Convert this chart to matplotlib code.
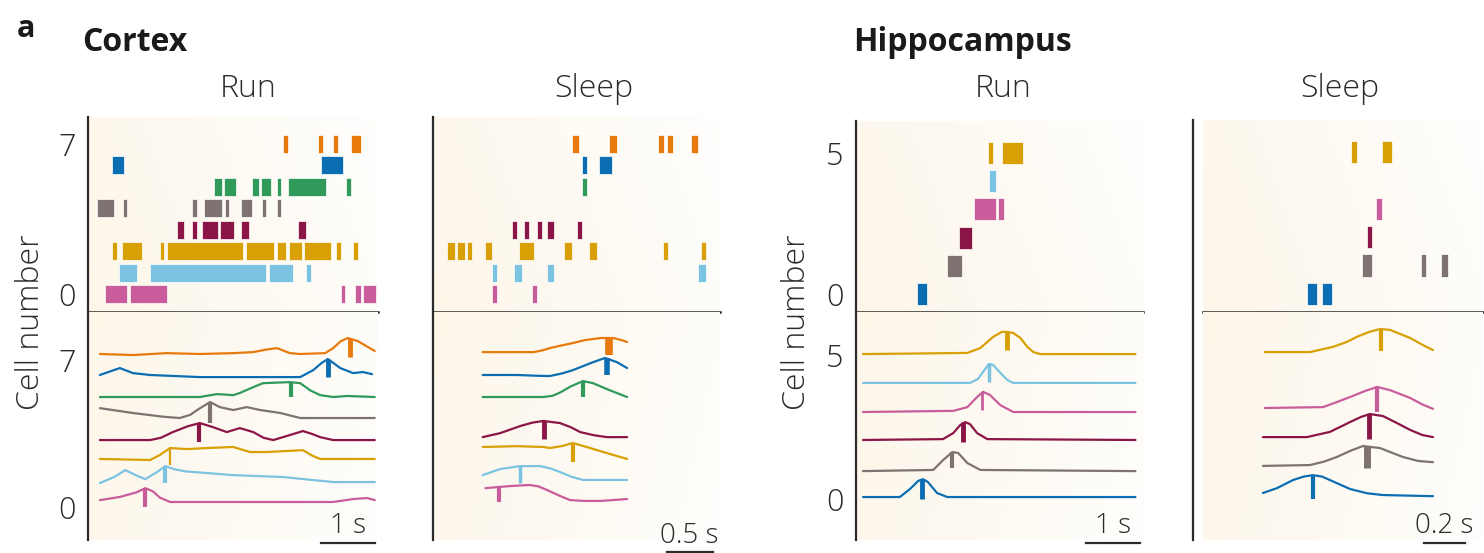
import numpy as np
import matplotlib
matplotlib.use("Agg")
import matplotlib.pyplot as plt

plt.rcParams['font.family'] = ['Open Sans', 'DejaVu Sans']

# colours of the cells
c_pink = '#C95C9A'
c_lblue = '#7CC3E1'
c_gold = '#D8A004'
c_maroon = '#8B1547'
c_gray = '#7E7370'
c_green = '#2F9A5A'
c_blue = '#0B6EB3'
c_orange = '#E8790D'

cortex_colors = [c_pink, c_lblue, c_gold, c_maroon, c_gray, c_green, c_blue, c_orange]
hippo_colors = [c_blue, c_gray, c_maroon, c_pink, c_lblue, c_gold]

# ---------------- cortex, run ----------------
# raster: (start, end) in s, one list per cell 0..7
cx_run_spikes = [
    [(0.31, 0.72), (0.78, 1.46), (4.69, 4.76), (4.94, 5.06), (5.09, 5.33)],
    [(0.57, 0.91), (1.15, 3.30), (3.35, 3.80), (4.04, 4.13)],
    [(0.44, 0.54), (0.63, 1.00), (1.33, 1.41), (1.46, 2.87), (2.93, 3.44),
     (3.50, 3.67), (3.72, 3.96), (4.00, 4.50), (4.59, 4.69), (4.91, 5.00)],
    [(1.65, 1.78), (1.93, 2.02), (2.11, 2.41), (2.44, 2.70), (2.83, 2.98), (3.89, 4.04)],
    [(0.17, 0.48), (0.65, 0.72), (1.93, 2.02), (2.15, 2.48), (2.54, 2.61),
     (2.83, 3.04), (3.22, 3.30), (3.50, 3.57)],
    [(2.33, 2.48), (2.52, 2.74), (3.04, 3.17), (3.20, 3.39), (3.50, 3.57),
     (3.70, 4.41), (4.78, 4.87)],
    [(0.44, 0.67), (4.31, 4.72)],
    [(3.61, 3.70), (4.26, 4.35), (4.54, 4.63), (4.87, 5.06)],
]
# traces: time (s) and level (cell number units)
cx_run_t = [
    [0.22, 0.59, 0.90, 1.06, 1.20, 1.33, 1.52, 4.54, 4.91, 5.17, 5.31],
    [0.22, 0.50, 0.69, 0.90, 1.06, 1.30, 1.43, 1.60, 1.80, 2.69, 3.61, 4.54, 5.31],
    [0.22, 1.15, 1.33, 1.52, 1.83, 2.20, 2.69, 3.00, 3.31, 3.98, 4.15, 4.30, 5.31],
    [0.22, 1.15, 1.35, 1.57, 1.85, 2.07, 2.31, 2.57, 2.81, 3.06, 3.25, 3.43, 3.74,
     3.98, 4.15, 4.30, 4.54, 5.31],
    [0.22, 0.83, 1.40, 1.70, 1.90, 2.02, 2.26, 2.44, 2.69, 2.94, 3.19, 3.56, 3.93, 5.31],
    [0.22, 2.07, 2.39, 2.69, 2.81, 3.05, 3.24, 3.74, 3.93, 4.12, 4.30, 4.54, 4.80, 5.31],
    [0.22, 0.59, 0.83, 1.15, 2.07, 3.93, 4.17, 4.32, 4.44, 4.55, 4.67, 4.91, 5.09, 5.26],
    [0.22, 0.83, 1.46, 2.07, 2.69, 3.06, 3.30, 3.50, 3.74, 3.93, 4.39, 4.54, 4.68,
     4.81, 5.00, 5.31],
]
cx_run_v = [
    [0.33, 0.48, 0.70, 0.90, 0.75, 0.45, 0.24, 0.24, 0.38, 0.43, 0.33],
    [1.14, 1.45, 1.76, 1.50, 1.33, 1.70, 1.95, 1.80, 1.70, 1.52, 1.43, 1.19, 1.19],
    [2.29, 2.24, 2.48, 2.81, 2.76, 2.81, 2.86, 2.62, 2.62, 2.71, 2.45, 2.29, 2.29],
    [3.19, 3.19, 3.30, 3.57, 3.85, 4.00, 3.81, 3.57, 3.76, 3.57, 3.30, 3.19, 3.43,
     3.62, 3.48, 3.33, 3.19, 3.19],
    [4.71, 4.48, 4.30, 4.24, 4.40, 4.62, 5.00, 4.76, 4.62, 4.76, 4.62, 4.48, 4.24, 4.24],
    [5.24, 5.24, 5.38, 5.33, 5.43, 5.70, 5.90, 5.95, 5.90, 5.55, 5.33, 5.24, 5.29, 5.24],
    [6.29, 6.62, 6.38, 6.29, 6.19, 6.19, 6.52, 6.85, 7.05, 6.85, 6.62, 6.38, 6.43, 6.33],
    [7.29, 7.24, 7.33, 7.29, 7.33, 7.38, 7.50, 7.57, 7.33, 7.29, 7.33, 7.57, 7.90,
     8.05, 7.90, 7.43],
]
# peak markers: time, top, bottom
cx_run_mark_t = [1.06, 1.43, 1.52, 2.06, 2.26, 3.76, 4.44, 4.85]
cx_run_mark_top = [0.90, 1.95, 2.81, 4.00, 5.00, 5.95, 7.05, 8.05]
cx_run_mark_bot = [0.00, 1.14, 2.00, 3.10, 4.00, 5.24, 6.19, 7.14]

# ---------------- cortex, sleep ----------------
cx_sleep_spikes = [
    [(0.64, 0.70), (1.08, 1.13)],
    [(0.64, 0.70), (0.88, 0.97), (1.24, 1.32), (2.88, 2.97)],
    [(0.15, 0.24), (0.26, 0.35), (0.37, 0.42), (0.57, 0.64), (0.93, 1.10),
     (1.42, 1.51), (1.70, 1.78), (2.50, 2.55), (2.91, 2.97)],
    [(0.86, 0.91), (0.99, 1.04), (1.13, 1.18), (1.24, 1.32), (1.57, 1.62)],
    [],
    [(1.62, 1.67)],
    [(1.62, 1.67), (1.80, 1.95)],
    [(1.51, 1.59), (1.91, 2.00), (2.45, 2.51), (2.54, 2.61), (2.80, 2.88)],
]
cx_sleep_t = [
    [0.57, 0.84, 1.05, 1.15, 1.24, 1.37, 1.49, 1.65, 1.82, 2.11],
    [0.54, 0.73, 0.95, 1.16, 1.27, 1.38, 1.50, 1.63, 2.11],
    [0.54, 0.91, 1.20, 1.27, 1.40, 1.52, 1.67, 1.89, 2.11],
    [0.54, 0.73, 0.95, 1.08, 1.20, 1.38, 1.50, 1.60, 1.75, 1.89, 2.11],
    [],
    [0.54, 1.20, 1.30, 1.38, 1.50, 1.63, 1.74, 1.90, 2.11],
    [0.54, 0.91, 1.15, 1.27, 1.40, 1.52, 1.74, 1.87, 2.00, 2.11],
    [0.54, 1.09, 1.18, 1.27, 1.40, 1.52, 1.65, 1.82, 1.96, 2.05, 2.11],
]
cx_sleep_v = [
    [0.90, 1.00, 1.05, 0.98, 0.81, 0.55, 0.33, 0.29, 0.29, 0.38],
    [1.52, 1.81, 1.95, 1.95, 1.85, 1.67, 1.45, 1.29, 1.29],
    [2.86, 2.90, 2.86, 2.81, 2.90, 3.05, 2.86, 2.57, 2.29],
    [3.33, 3.52, 3.86, 4.02, 4.10, 4.00, 3.80, 3.57, 3.42, 3.33, 3.33],
    [],
    [5.24, 5.24, 5.30, 5.45, 5.75, 6.00, 5.90, 5.60, 5.24],
    [6.29, 6.29, 6.25, 6.24, 6.36, 6.52, 6.90, 7.10, 6.90, 6.62],
    [7.38, 7.38, 7.45, 7.57, 7.70, 7.81, 7.95, 8.05, 8.05, 7.95, 7.86],
]
cx_sleep_mark_t = [0.72, 0.95, 1.52, 1.21, None, 1.63, 1.89, 1.91]
cx_sleep_mark_top = [0.95, 1.95, 3.05, 4.10, None, 6.00, 7.10, 8.10]
cx_sleep_mark_bot = [0.24, 1.14, 2.14, 3.24, None, 5.24, 6.29, 7.24]

# ---------------- hippocampus, run ----------------
hc_run_spikes = [
    [(1.13, 1.31)],
    [(1.69, 1.96)],
    [(1.91, 2.15)],
    [(2.19, 2.59), (2.63, 2.74)],
    [(2.46, 2.59)],
    [(2.44, 2.54), (2.70, 3.09)],
]
hc_run_t = [
    [0.13, 0.81, 1.00, 1.15, 1.24, 1.33, 1.50, 1.69, 5.17],
    [0.13, 1.43, 1.61, 1.78, 1.89, 2.06, 2.30, 5.17],
    [0.13, 1.61, 1.80, 1.93, 2.02, 2.11, 2.24, 2.43, 5.17],
    [0.13, 1.80, 2.06, 2.24, 2.35, 2.48, 2.67, 2.91, 5.17],
    [0.13, 2.11, 2.26, 2.35, 2.46, 2.54, 2.67, 2.80, 2.91, 5.17],
    [0.13, 2.06, 2.30, 2.54, 2.70, 2.80, 2.91, 3.04, 3.17, 3.28, 3.41, 5.17],
]
hc_run_v = [
    [0.07, 0.07, 0.35, 0.63, 0.69, 0.59, 0.21, 0.07, 0.07],
    [0.97, 1.01, 1.35, 1.63, 1.60, 1.25, 1.01, 0.97],
    [2.05, 2.08, 2.29, 2.57, 2.67, 2.60, 2.29, 2.08, 2.05],
    [3.02, 3.06, 3.19, 3.54, 3.72, 3.61, 3.26, 3.02, 3.02],
    [4.03, 4.03, 4.17, 4.41, 4.69, 4.65, 4.38, 4.13, 4.03, 4.03],
    [5.03, 5.07, 5.24, 5.63, 5.80, 5.80, 5.76, 5.59, 5.28, 5.10, 5.03, 5.03],
]
hc_run_mark_t = [1.22, 1.78, 1.98, 2.33, 2.46, 2.80]
hc_run_mark_top = [0.69, 1.63, 2.67, 3.72, 4.69, 5.80]
hc_run_mark_bot = [0.00, 1.08, 1.98, 3.09, 4.06, 5.17]

# ---------------- hippocampus, sleep ----------------
hc_sleep_spikes = [
    [(0.556, 0.605), (0.629, 0.678)],
    [(0.824, 0.873), (1.112, 1.137), (1.210, 1.244)],
    [(0.849, 0.873)],
    [(0.893, 0.922)],
    [],
    [(0.771, 0.800), (0.922, 0.971)],
]
hc_sleep_t = [
    [0.341, 0.410, 0.488, 0.540, 0.585, 0.630, 0.668, 0.766, 0.850, 0.927, 1.171],
    [0.341, 0.571, 0.640, 0.702, 0.770, 0.829, 0.912, 1.024, 1.100, 1.171],
    [0.341, 0.556, 0.668, 0.766, 0.820, 0.863, 0.927, 1.000, 1.059, 1.120, 1.171],
    [0.351, 0.634, 0.700, 0.766, 0.840, 0.898, 0.961, 1.059, 1.120, 1.171],
    [],
    [0.351, 0.571, 0.683, 0.750, 0.800, 0.860, 0.912, 0.961, 1.059, 1.120, 1.171],
]
hc_sleep_v = [
    [0.21, 0.38, 0.66, 0.78, 0.83, 0.78, 0.66, 0.35, 0.20, 0.14, 0.10],
    [1.15, 1.18, 1.30, 1.46, 1.68, 1.84, 1.77, 1.46, 1.32, 1.28],
    [2.15, 2.15, 2.33, 2.67, 2.85, 2.95, 2.88, 2.62, 2.40, 2.22, 2.15],
    [3.16, 3.19, 3.36, 3.54, 3.75, 3.89, 3.78, 3.51, 3.28, 3.13],
    [],
    [5.10, 5.10, 5.28, 5.45, 5.63, 5.80, 5.90, 5.87, 5.59, 5.35, 5.17],
]
hc_sleep_mark_t = [0.585, 0.849, 0.859, 0.898, None, 0.917]
hc_sleep_mark_top = [0.83, 1.84, 2.95, 3.89, None, 5.90]
hc_sleep_mark_bot = [0.00, 1.08, 2.08, 3.02, None, 5.14]

# scale bars: length (s) and label
cx_run_bar = (1.0, '1 s')
cx_sleep_bar = (0.5, '0.5 s')
hc_run_bar = (1.0, '1 s')
hc_sleep_bar = (0.2, '0.2 s')

W, H = 1484, 553
fig = plt.figure(figsize=(W / 100, H / 100), dpi=100)

INK = '#2b2b2b'
LIGHT = 'light'


def fr(x0, y0, x1, y1):
    # pixel box -> figure fraction
    return [x0 / W, 1 - y1 / H, (x1 - x0) / W, (y1 - y0) / H]


def paper(ax, x0=0.0, top=True):
    xs = np.linspace(0, 1, 200)
    ys = np.linspace(0, 1, 100)
    X, Y = np.meshgrid(xs, ys)
    if top:
        w = np.clip(1.0 - 0.85 * X - 0.2 * Y, 0, 1)
    else:
        w = np.clip(1.0 - 0.85 * X + 0.15 * (Y - 1), 0, 1)
    lo = np.array([253, 246, 233]) / 255.0
    hi = np.array([255, 254, 252]) / 255.0
    img = hi[None, None, :] * (1 - w[..., None]) + lo[None, None, :] * w[..., None]
    ax.imshow(img, extent=[x0, 1, 0, 1], transform=ax.transAxes, aspect='auto',
              origin='lower', zorder=0, interpolation='bilinear')


def style(ax, xlim, ylim, ticks, labels, hline_start=0.0, top=True):
    ax.set_xlim(*xlim)
    ax.set_ylim(*ylim)
    for s in ['top', 'right', 'bottom']:
        ax.spines[s].set_visible(False)
    ax.spines['left'].set_color(INK)
    ax.spines['left'].set_linewidth(1.6)
    ax.set_xticks([])
    ax.set_yticks(ticks)
    ax.set_yticklabels(labels, fontweight=LIGHT)
    ax.tick_params(axis='y', length=0, pad=9, labelsize=22, labelcolor=INK)
    ax.patch.set_alpha(0)
    if top:
        ax.plot([hline_start, 1], [0, 0], transform=ax.transAxes, color=INK,
                lw=1.8, clip_on=False, zorder=5)


def raster(ax, spikes, colors, height):
    for cell, segs in enumerate(spikes):
        if not segs:
            continue
        ax.broken_barh([(a, b - a) for a, b in segs], (cell - height / 2, height),
                       facecolors=colors[cell], edgecolor='white', linewidth=0.5, zorder=3)


def traces(ax, ts, vs, mt, mtop, mbot, colors, mark_lw):
    for cell in range(len(ts)):
        if not ts[cell]:
            continue
        ax.plot(ts[cell], vs[cell], color=colors[cell], lw=1.6, zorder=3,
                solid_joinstyle='round', solid_capstyle='round')
        if mt[cell] is not None:
            ax.plot([mt[cell], mt[cell]], [mbot[cell], mtop[cell]], color=colors[cell],
                    lw=mark_lw[cell], zorder=4, solid_capstyle='butt')


def scalebar(ax, x0, y_line, y_text, bar):
    length, label = bar
    ax.plot([x0, x0 + length], [y_line, y_line], color=INK, lw=1.6, clip_on=False)
    ax.text(x0 + length / 2, y_text, label, ha='center', va='baseline',
            fontsize=20, fontweight=LIGHT, color=INK, clip_on=False)


# ---- cortex run ----
ax = fig.add_axes(fr(88, 117, 378, 312))
paper(ax)
raster(ax, cx_run_spikes, cortex_colors, 0.84)
style(ax, (0, 5.37), (-0.84, 8.26), [0, 7], ['0', '7'])
ax = fig.add_axes(fr(88, 312, 378, 540))
paper(ax, top=False)
traces(ax, cx_run_t, cx_run_v, cx_run_mark_t, cx_run_mark_top, cx_run_mark_bot,
       cortex_colors, [3, 3, 1.6, 3, 3, 3, 3.5, 3.5])
style(ax, (0, 5.37), (-1.57, 9.29), [0, 7], ['0', '7'], top=False)
scalebar(ax, 4.31, -1.71, -1.24, cx_run_bar)

# ---- cortex sleep ----
ax = fig.add_axes(fr(433, 117, 720, 312))
paper(ax)
raster(ax, cx_sleep_spikes, cortex_colors, 0.84)
style(ax, (0, 3.12), (-0.84, 8.26), [], [])
ax = fig.add_axes(fr(433, 312, 720, 540))
paper(ax, top=False)
traces(ax, cx_sleep_t, cx_sleep_v, cx_sleep_mark_t, cx_sleep_mark_top, cx_sleep_mark_bot,
       cortex_colors, [3, 2.5, 3, 3.5, 3, 3, 4, 5.5])
style(ax, (0, 3.12), (-1.57, 9.29), [], [], top=False)
scalebar(ax, 2.54, -2.14, -1.71, cx_sleep_bar)

# ---- hippocampus run ----
ax = fig.add_axes(fr(856, 121, 1143, 312))
paper(ax)
raster(ax, hc_run_spikes, hippo_colors, 0.78)
style(ax, (0, 5.31), (-0.64, 6.13), [0, 5], ['0', '5'])
ax = fig.add_axes(fr(856, 312, 1143, 540))
paper(ax, top=False)
traces(ax, hc_run_t, hc_run_v, hc_run_mark_t, hc_run_mark_top, hc_run_mark_bot,
       hippo_colors, [3.5, 3, 3.5, 2, 2.5, 3.5])
style(ax, (0, 5.31), (-1.42, 6.49), [0, 5], ['0', '5'], top=False)
scalebar(ax, 4.26, -1.53, -1.18, hc_run_bar)

# ---- hippocampus sleep ----
ax = fig.add_axes(fr(1193, 120, 1483, 312))
paper(ax, x0=0.035)
raster(ax, hc_sleep_spikes, hippo_colors, 0.78)
style(ax, (0, 1.415), (-0.64, 6.13), [], [], hline_start=0.035)
ax = fig.add_axes(fr(1193, 312, 1483, 540))
paper(ax, x0=0.035, top=False)
traces(ax, hc_sleep_t, hc_sleep_v, hc_sleep_mark_t, hc_sleep_mark_top, hc_sleep_mark_bot,
       hippo_colors, [3, 5, 3.5, 3, 3, 3])
style(ax, (0, 1.415), (-1.42, 6.49), [], [], top=False)
scalebar(ax, 1.127, -1.53, -1.18, hc_sleep_bar)

# ---- titles and labels ----
fig.text(17 / W, 1 - 37 / H, 'a', fontsize=22, fontweight='bold', color='#1a1a1a')
fig.text(82 / W, 1 - 51 / H, 'Cortex', fontsize=23, fontweight='bold', color='#1a1a1a')
fig.text(853 / W, 1 - 51 / H, 'Hippocampus', fontsize=23, fontweight='bold', color='#1a1a1a')
for xc, label in [(248, 'Run'), (594, 'Sleep'), (1003, 'Run'), (1340, 'Sleep')]:
    fig.text(xc / W, 1 - 97 / H, label, fontsize=23, fontweight=LIGHT,
             ha='center', va='baseline', color=INK)
for xc in [31, 797]:
    fig.text(xc / W, 1 - 322 / H, 'Cell number', fontsize=23, fontweight=LIGHT,
             rotation=90, ha='center', va='center', color=INK)

fig.savefig('out.png', dpi=100)
